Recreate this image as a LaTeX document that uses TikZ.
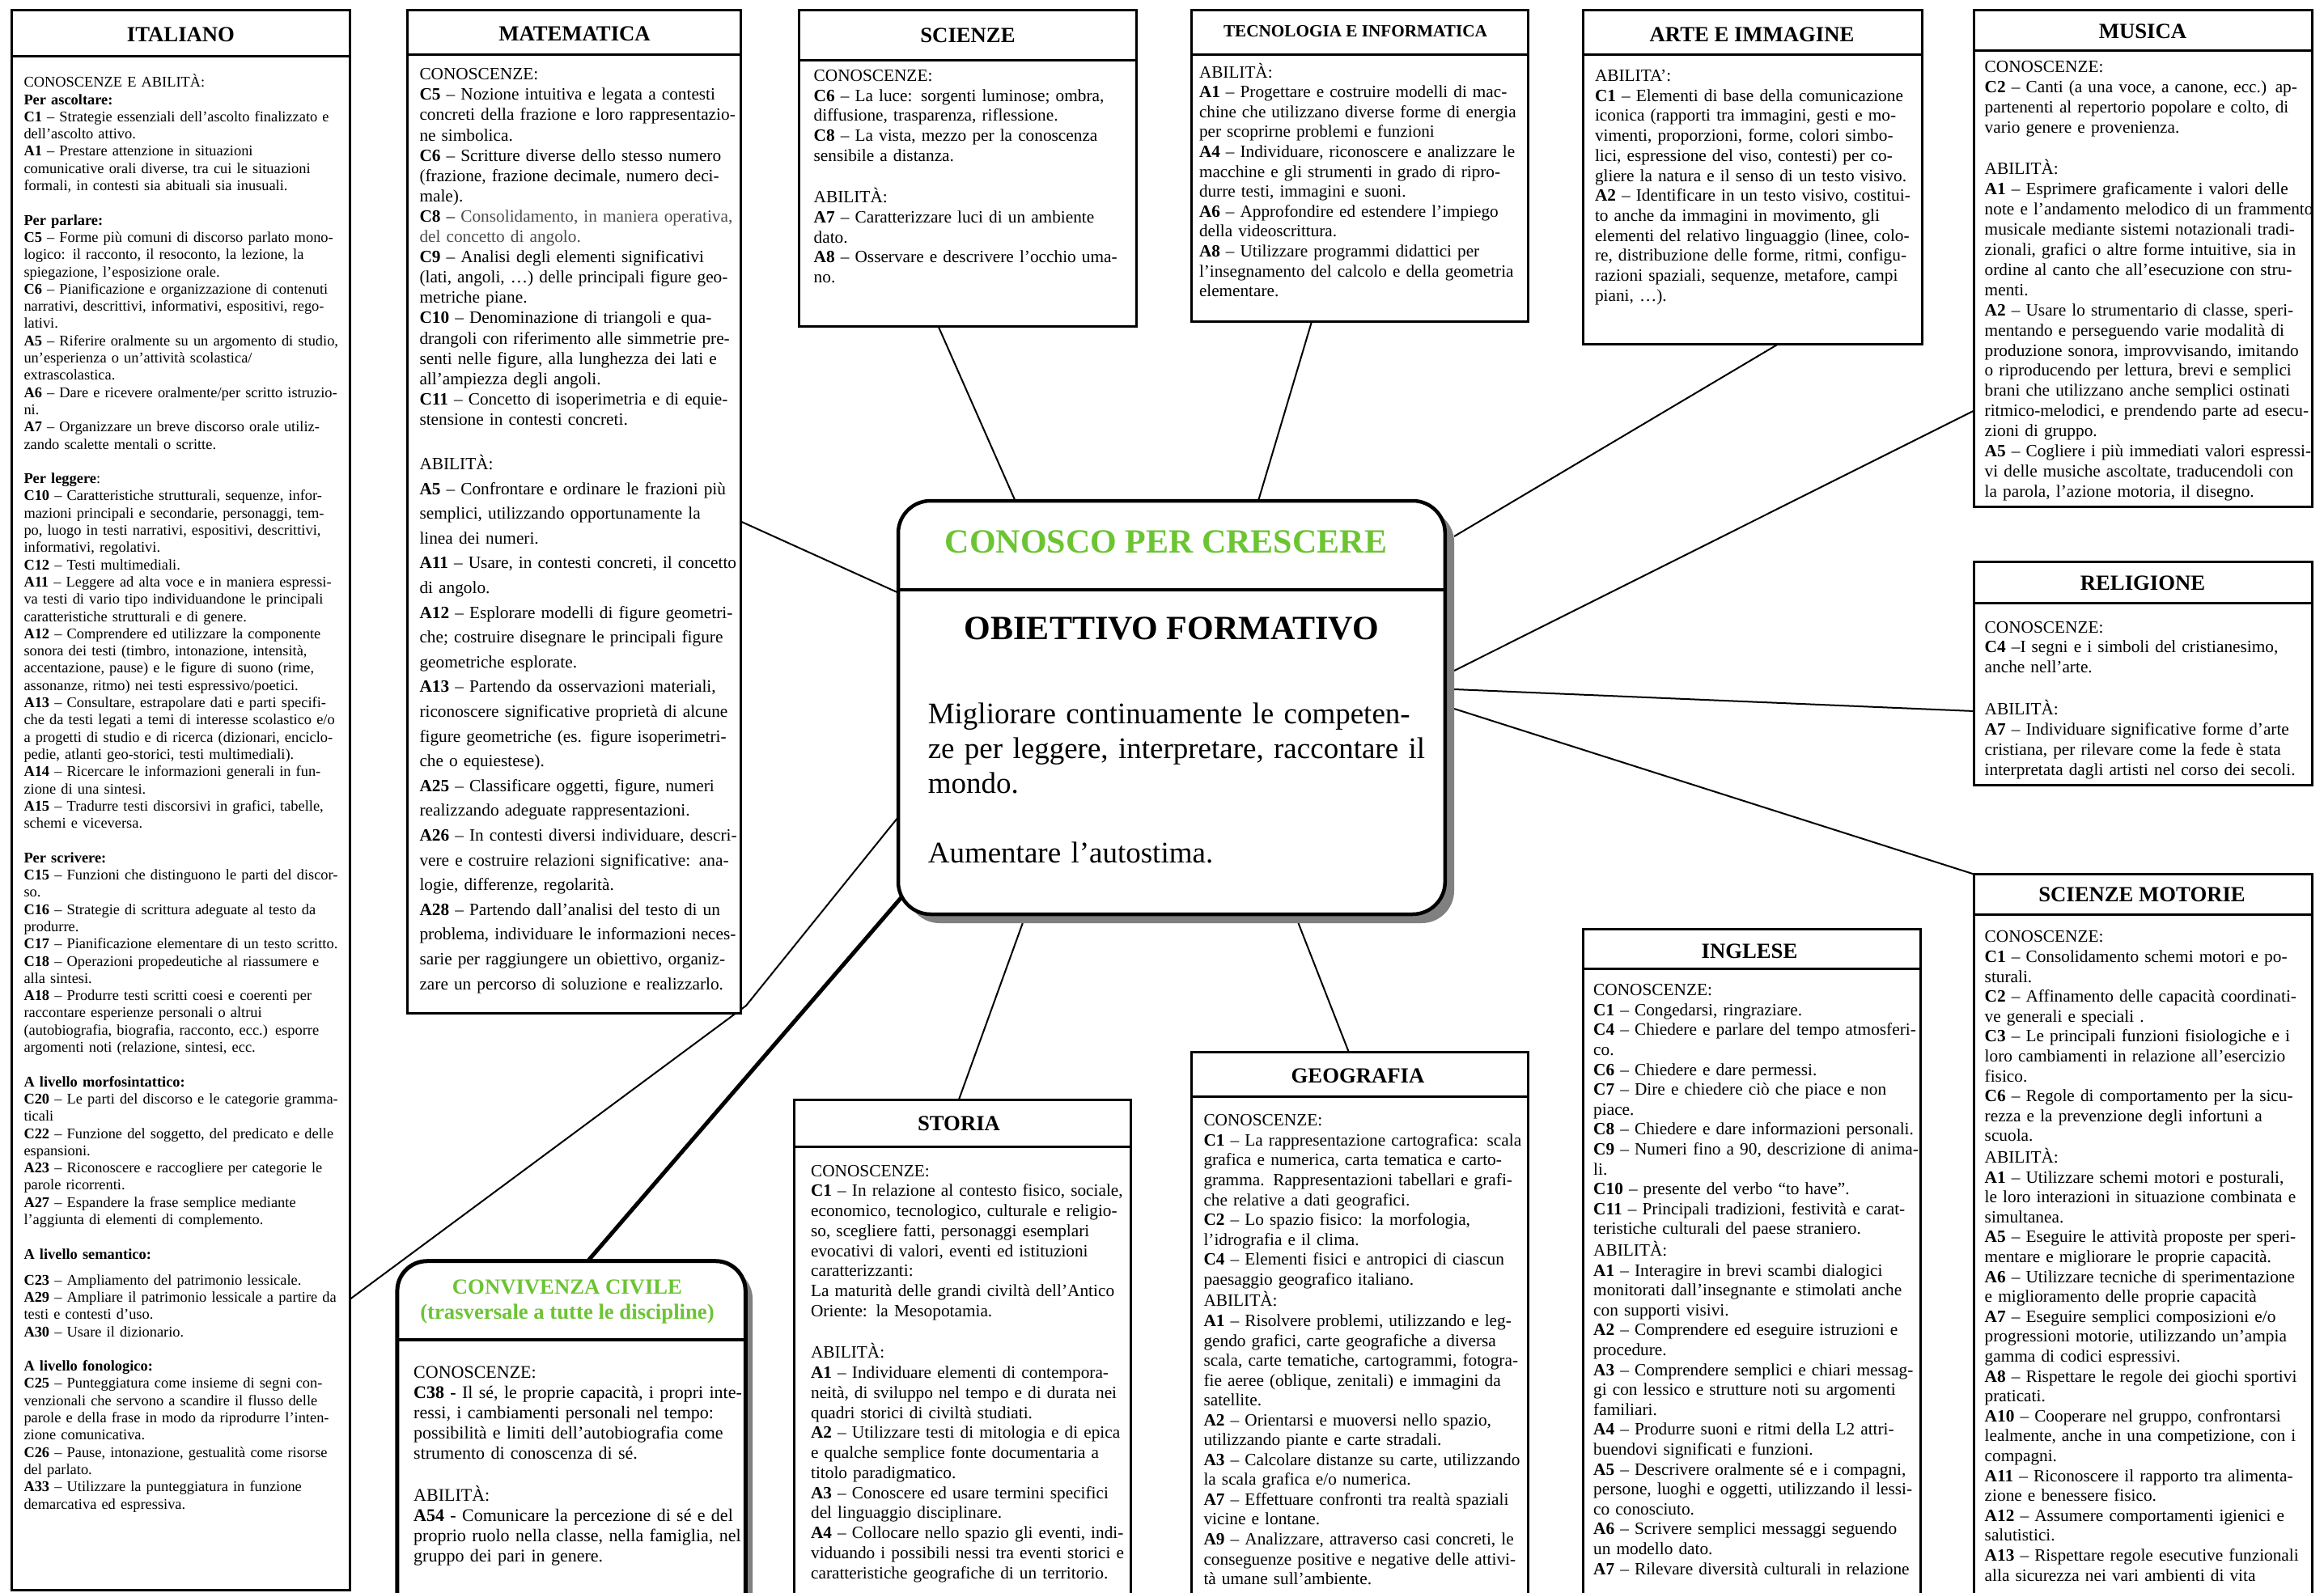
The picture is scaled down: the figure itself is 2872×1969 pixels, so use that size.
\documentclass[tikz,border=0pt]{standalone}
\usepackage{fontspec}
\setmainfont{Liberation Serif}
\usetikzlibrary{fit}
\definecolor{grn}{RGB}{108,196,51}
\hbadness=10000 \hfuzz=20pt
\newcommand\JL[1]{\hbox to\linewidth{\strut#1}\par}
\newcommand\RL[1]{\hbox to\linewidth{\strut#1\hfil}\par}
\newcommand\EL{\hbox{\strut}\par}
\newcommand\bt[1]{\textbf{#1}}
\tikzset{
  box/.style={draw, line width=3pt, inner sep=0pt, fill=white},
  sepl/.style={line width=3pt},
  ttl/.style={inner sep=0pt, font={\fontsize{26.7}{30}\selectfont\bfseries}},
  body/.style={anchor=north west, inner sep=0pt, font={\fontsize{21.3}{24.7}\selectfont}},
  conn/.style={line width=2pt, line join=round},
  thickconn/.style={line width=5pt},
}
\begin{document}
\begin{tikzpicture}[x=1pt,y=-1pt]
\useasboundingbox (0,0) rectangle (2872,1969);
\fill[white] (0,0) rectangle (2872,1969);
\clip (0,0) rectangle (2872,1969);

% ---------- connector end points ----------
\coordinate (ita-e) at (432.3,1606);
\coordinate (ita-bend) at (922,1243);
\coordinate (mat-e1) at (915.8,644.7);
\coordinate (sci-s) at (1159.4,403);
\coordinate (tec-s) at (1621,397.5);
\coordinate (art-s) at (2198,425);
\coordinate (mus-w) at (2439.7,507.4);
\coordinate (rel-w) at (2439.7,879);
\coordinate (scm-nw) at (2439.7,1080.6);
\coordinate (sto-n) at (1185,1359);
\coordinate (geo-n) at (1666.8,1300.4);
\coordinate (cnv-n) at (725.3,1560);
\coordinate (ctrw1) at (1110,732.6);
\coordinate (ctrw3) at (1110,1010);
\coordinate (ctrsw) at (1121,1101);
\coordinate (ctrn1) at (1254.6,619);
\coordinate (ctrn2) at (1555,619);
\coordinate (shr1) at (1797,663);
\coordinate (shr2) at (1797,829);
\coordinate (shr3) at (1797,852);
\coordinate (shr4) at (1797,876);
\coordinate (shb1) at (1263.8,1141);
\coordinate (shb2) at (1604.5,1141);

% ---------- connectors (behind the boxes) ----------
\draw[conn] (mat-e1) -- (ctrw1);
\draw[conn] (ita-e) -- (ita-bend) -- (ctrw3);
\draw[conn] (sci-s) -- (ctrn1);
\draw[conn] (tec-s) -- (ctrn2);
\draw[conn] (art-s) -- (shr1);
\draw[conn] (mus-w) -- (shr2);
\draw[conn] (rel-w) -- (shr3);
\draw[conn] (scm-nw) -- (shr4);
\draw[conn] (sto-n) -- (shb1);
\draw[conn] (geo-n) -- (shb2);
\draw[thickconn] (cnv-n) -- (ctrsw);

% ---------- boxes ----------
\node[box, fit={(14.7,12.8) (432.3,1965.3)}] (ita) {};
\draw[sepl] (14.7,69.6) -- (432.3,69.6);
\node[box, fit={(503.7,12.8) (915.8,1252.8)}] (mat) {};
\draw[sepl] (503.7,67.8) -- (915.8,67.8);
\node[box, fit={(987.2,12.8) (1404.8,403)}] (sci) {};
\draw[sepl] (987.2,75) -- (1404.8,75);
\node[box, fit={(1472.6,12.8) (1888.4,397.5)}] (tec) {};
\draw[sepl] (1472.6,67.8) -- (1888.4,67.8);
\node[box, fit={(1956.1,12.8) (2375.6,425)}] (art) {};
\draw[sepl] (1956.1,67.8) -- (2375.6,67.8);
\node[box, fit={(2439.7,12.8) (2857.3,626.4)}] (mus) {};
\draw[sepl] (2439.7,62.3) -- (2857.3,62.3);
\node[box, fit={(2439.7,694.2) (2857.3,970.7)}] (rel) {};
\draw[sepl] (2439.7,745.5) -- (2857.3,745.5);
\node[box, fit={(2439.7,1080.6) (2857.3,2000)}] (scm) {};
\draw[sepl] (2439.7,1130.1) -- (2857.3,1130.1);
\node[box, fit={(1956.1,1148.4) (2373.8,2000)}] (ing) {};
\draw[sepl] (1956.1,1197.9) -- (2373.8,1197.9);
\node[box, fit={(1472.6,1300.4) (1888.4,2000)}] (geo) {};
\draw[sepl] (1472.6,1355.4) -- (1888.4,1355.4);
\node[box, fit={(981.7,1359) (1397.5,2000)}] (sto) {};
\draw[sepl] (981.7,1417.6) -- (1397.5,1417.6);

% ---------- center box ----------
\fill[black!50, rounded corners=40pt] (1121,630) rectangle (1797,1141);
\node[draw, line width=4.5pt, fill=white, rounded corners=40pt, inner sep=0pt,
      fit={(1110,619) (1785.8,1130)}] (ctr) {};
\draw[line width=3.5pt] (1110,729) -- (1785.8,729);
\node[anchor=base, inner sep=0pt, text=grn, font={\fontsize{42}{48}\selectfont\bfseries}] (ctr-t1) at (1441,683) {CONOSCO PER CRESCERE};
\node[anchor=base, inner sep=0pt, font={\fontsize{42}{48}\selectfont\bfseries}] (ctr-t2) at (1448,790) {OBIETTIVO FORMATIVO};
\node[body, font={\fontsize{37}{43}\selectfont}, text width=602.5pt] (ctr-b) at (1146.6,863.9) {%
\JL{Migliorare continuamente le competen-}%
\JL{ze per leggere, interpretare, raccontare il}%
\RL{mondo.}%
\EL
\RL{Aumentare l’autostima.}};

% ---------- convivenza ----------
\fill[black!50, rounded corners=37pt] (500,1568) rectangle (930,2030);
\node[draw, line width=5pt, fill=white, rounded corners=37pt, inner sep=0pt,
      fit={(490.9,1558.7) (921.3,2020)}] (cnv) {};
\draw[line width=4.5pt] (490.9,1655.8) -- (921.3,1655.8);
\node[inner sep=0pt, text=grn, align=center, font={\fontsize{26.7}{31}\selectfont\bfseries}] (cnv-t) at (701,1609) {CONVIVENZA CIVILE\\(trasversale a tutte le discipline)};
\node[body, font={\fontsize{22}{25}\selectfont}, text width=392pt] (cnv-b) at (511,1685.5) {%
\RL{CONOSCENZE:}%
\JL{\bt{C38 -} Il sé, le proprie capacità, i propri inte-}%
\JL{ressi, i cambiamenti personali nel tempo:}%
\JL{possibilità e limiti dell’autobiografia come}%
\RL{strumento di conoscenza di sé.}%
\EL
\RL{ABILITÀ:}%
\JL{\bt{A54} - Comunicare la percezione di sé e del}%
\JL{proprio ruolo nella classe, nella famiglia, nel}%
\RL{gruppo dei pari in genere.}};

% ---------- titles ----------
\node[ttl] (ita-t) at (223.5,43) {ITALIANO};
\node[ttl] (mat-t) at (710,42) {MATEMATICA};
\node[ttl] (sci-t) at (1196,44) {SCIENZE};
\node[ttl, font={\fontsize{21.2}{25}\selectfont\bfseries}] (tec-t) at (1675,39) {TECNOLOGIA E INFORMATICA};
\node[ttl] (art-t) at (2165,43) {ARTE E IMMAGINE};
\node[ttl] (mus-t) at (2648,39) {MUSICA};
\node[ttl] (rel-t) at (2648,721) {RELIGIONE};
\node[ttl] (scm-t) at (2647,1106) {SCIENZE MOTORIE};
\node[ttl] (ing-t) at (2162,1176) {INGLESE};
\node[ttl] (geo-t) at (1678,1330) {GEOGRAFIA};
\node[ttl] (sto-t) at (1185,1389) {STORIA};

% ---------- ITALIANO ----------
\node[body, font={\fontsize{18.4}{21.3}\selectfont}, text width=385pt] (ita-b) at (29.3,91.8) {%
\RL{CONOSCENZE E ABILITÀ:}%
\RL{\bt{Per ascoltare:}}%
\JL{\bt{C1} – Strategie essenziali dell’ascolto finalizzato e}%
\RL{dell’ascolto attivo.}%
\JL{\bt{A1} – Prestare attenzione in situazioni}%
\JL{comunicative orali diverse, tra cui le situazioni}%
\RL{formali, in contesti sia abituali sia inusuali.}%
\EL
\RL{\bt{Per parlare:}}%
\RL{\bt{C5} – Forme più comuni di discorso parlato mono-}%
\RL{logico: il racconto, il resoconto, la lezione, la}%
\RL{spiegazione, l’esposizione orale.}%
\RL{\bt{C6} – Pianificazione e organizzazione di contenuti}%
\RL{narrativi, descrittivi, informativi, espositivi, rego-}%
\RL{lativi.}%
\RL{\bt{A5} – Riferire oralmente su un argomento di studio,}%
\RL{un’esperienza o un’attività scolastica/}%
\RL{extrascolastica.}%
\RL{\bt{A6} – Dare e ricevere oralmente/per scritto istruzio-}%
\RL{ni.}%
\RL{\bt{A7} – Organizzare un breve discorso orale utiliz-}%
\RL{zando scalette mentali o scritte.}%
\EL
\RL{\bt{Per leggere}:}%
\JL{\bt{C10} – Caratteristiche strutturali, sequenze, infor-}%
\JL{mazioni principali e secondarie, personaggi, tem-}%
\JL{po, luogo in testi narrativi, espositivi, descrittivi,}%
\RL{informativi, regolativi.}%
\RL{\bt{C12} – Testi multimediali.}%
\RL{\bt{A11} – Leggere ad alta voce e in maniera espressi-}%
\RL{va testi di vario tipo individuandone le principali}%
\RL{caratteristiche strutturali e di genere.}%
\RL{\bt{A12} – Comprendere ed utilizzare la componente}%
\RL{sonora dei testi (timbro, intonazione, intensità,}%
\RL{accentazione, pause) e le figure di suono (rime,}%
\RL{assonanze, ritmo) nei testi espressivo/poetici.}%
\RL{\bt{A13} – Consultare, estrapolare dati e parti specifi-}%
\RL{che da testi legati a temi di interesse scolastico e/o}%
\RL{a progetti di studio e di ricerca (dizionari, enciclo-}%
\RL{pedie, atlanti geo-storici, testi multimediali).}%
\RL{\bt{A14} – Ricercare le informazioni generali in fun-}%
\RL{zione di una sintesi.}%
\JL{\bt{A15} – Tradurre testi discorsivi in grafici, tabelle,}%
\RL{schemi e viceversa.}%
\EL
\RL{\bt{Per scrivere:}}%
\RL{\bt{C15} – Funzioni che distinguono le parti del discor-}%
\RL{so.}%
\RL{\bt{C16} – Strategie di scrittura adeguate al testo da}%
\RL{produrre.}%
\RL{\bt{C17} – Pianificazione elementare di un testo scritto.}%
\JL{\bt{C18} – Operazioni propedeutiche al riassumere e}%
\RL{alla sintesi.}%
\JL{\bt{A18} – Produrre testi scritti coesi e coerenti per}%
\JL{raccontare esperienze personali o altrui}%
\JL{(autobiografia, biografia, racconto, ecc.) esporre}%
\RL{argomenti noti (relazione, sintesi, ecc.}%
\EL
\RL{\bt{A livello morfosintattico:}}%
\JL{\bt{C20} – Le parti del discorso e le categorie gramma-}%
\RL{ticali}%
\JL{\bt{C22} – Funzione del soggetto, del predicato e delle}%
\RL{espansioni.}%
\JL{\bt{A23} – Riconoscere e raccogliere per categorie le}%
\RL{parole ricorrenti.}%
\JL{\bt{A27} – Espandere la frase semplice mediante}%
\RL{l’aggiunta di elementi di complemento.}%
\EL
\RL{\bt{A livello semantico:}}%
\vskip 10.7pt
\RL{\bt{C23} – Ampliamento del patrimonio lessicale.}%
\JL{\bt{A29} – Ampliare il patrimonio lessicale a partire da}%
\RL{testi e contesti d’uso.}%
\RL{\bt{A30} – Usare il dizionario.}%
\EL
\RL{\bt{A livello fonologico:}}%
\JL{\bt{C25} – Punteggiatura come insieme di segni con-}%
\JL{venzionali che servono a scandire il flusso delle}%
\JL{parole e della frase in modo da riprodurre l’inten-}%
\RL{zione comunicativa.}%
\JL{\bt{C26} – Pause, intonazione, gestualità come risorse}%
\RL{del parlato.}%
\JL{\bt{A33} – Utilizzare la punteggiatura in funzione}%
\RL{demarcativa ed espressiva.}};

% ---------- MATEMATICA ----------
\node[body, font={\fontsize{21.3}{25.1}\selectfont}, text width=385pt] (mat-b1) at (518.3,81) {%
\RL{CONOSCENZE:}%
\JL{\bt{C5} – Nozione intuitiva e legata a contesti}%
\JL{concreti della frazione e loro rappresentazio-}%
\RL{ne simbolica.}%
\JL{\bt{C6} – Scritture diverse dello stesso numero}%
\JL{(frazione, frazione decimale, numero deci-}%
\RL{male).}%
\JL{\bt{C8} – \color{black!70}Consolidamento, in maniera operativa,}%
\RL{\color{black!70}del concetto di angolo.}%
\JL{\bt{C9} – Analisi degli elementi significativi}%
\JL{(lati, angoli, …) delle principali figure geo-}%
\RL{metriche piane.}%
\JL{\bt{C10} – Denominazione di triangoli e qua-}%
\JL{drangoli con riferimento alle simmetrie pre-}%
\JL{senti nelle figure, alla lunghezza dei lati e}%
\RL{all’ampiezza degli angoli.}%
\JL{\bt{C11} – Concetto di isoperimetria e di equie-}%
\RL{stensione in contesti concreti.}};
\node[body, font={\fontsize{21.3}{30.6}\selectfont}, text width=385pt] (mat-b2) at (518.3,558.9) {%
\RL{ABILITÀ:}%
\JL{\bt{A5} – Confrontare e ordinare le frazioni più}%
\JL{semplici, utilizzando opportunamente la}%
\RL{linea dei numeri.}%
\JL{\bt{A11} – Usare, in contesti concreti, il concetto}%
\RL{di angolo.}%
\JL{\bt{A12} – Esplorare modelli di figure geometri-}%
\JL{che; costruire disegnare le principali figure}%
\RL{geometriche esplorate.}%
\JL{\bt{A13} – Partendo da osservazioni materiali,}%
\JL{riconoscere significative proprietà di alcune}%
\JL{figure geometriche (es. figure isoperimetri-}%
\RL{che o equiestese).}%
\JL{\bt{A25} – Classificare oggetti, figure, numeri}%
\RL{realizzando adeguate rappresentazioni.}%
\JL{\bt{A26} – In contesti diversi individuare, descri-}%
\JL{vere e costruire relazioni significative: ana-}%
\RL{logie, differenze, regolarità.}%
\JL{\bt{A28} – Partendo dall’analisi del testo di un}%
\JL{problema, individuare le informazioni neces-}%
\JL{sarie per raggiungere un obiettivo, organiz-}%
\RL{zare un percorso di soluzione e realizzarlo.}};

% ---------- SCIENZE ----------
\node[body, text width=381pt] (sci-b) at (1005.5,83.1) {%
\RL{CONOSCENZE:}%
\JL{\bt{C6} – La luce: sorgenti luminose; ombra,}%
\RL{diffusione, trasparenza, riflessione.}%
\JL{\bt{C8} – La vista, mezzo per la conoscenza}%
\RL{sensibile a distanza.}%
\EL
\RL{ABILITÀ:}%
\JL{\bt{A7} – Caratterizzare luci di un ambiente}%
\RL{dato.}%
\JL{\bt{A8} – Osservare e descrivere l’occhio uma-}%
\RL{no.}};

% ---------- TECNOLOGIA ----------
\node[body, font={\fontsize{21.2}{24.6}\selectfont}, text width=395pt] (tec-b) at (1481.8,77.8) {%
\RL{ABILITÀ:}%
\RL{\bt{A1} – Progettare e costruire modelli di mac-}%
\RL{chine che utilizzano diverse forme di energia}%
\RL{per scoprirne problemi e funzioni}%
\RL{\bt{A4} – Individuare, riconoscere e analizzare le}%
\RL{macchine e gli strumenti in grado di ripro-}%
\RL{durre testi, immagini e suoni.}%
\RL{\bt{A6} – Approfondire ed estendere l’impiego}%
\RL{della videoscrittura.}%
\RL{\bt{A8} – Utilizzare programmi didattici per}%
\RL{l’insegnamento del calcolo e della geometria}%
\RL{elementare.}};

% ---------- ARTE ----------
\node[body, text width=386.5pt] (art-b) at (1970.8,83.1) {%
\RL{ABILITA’:}%
\JL{\bt{C1} – Elementi di base della comunicazione}%
\JL{iconica (rapporti tra immagini, gesti e mo-}%
\JL{vimenti, proporzioni, forme, colori simbo-}%
\JL{lici, espressione del viso, contesti) per co-}%
\JL{gliere la natura e il senso di un testo visivo.}%
\JL{\bt{A2} – Identificare in un testo visivo, costitui-}%
\JL{to anche da immagini in movimento, gli}%
\JL{elementi del relativo linguaggio (linee, colo-}%
\JL{re, distribuzione delle forme, ritmi, configu-}%
\JL{razioni spaziali, sequenze, metafore, campi}%
\RL{piani, …).}};

% ---------- MUSICA ----------
\node[body, font={\fontsize{21.3}{24.9}\selectfont}, text width=395.6pt] (mus-b) at (2452.5,72) {%
\RL{CONOSCENZE:}%
\JL{\bt{C2} – Canti (a una voce, a canone, ecc.) ap-}%
\JL{partenenti al repertorio popolare e colto, di}%
\RL{vario genere e provenienza.}%
\EL
\RL{ABILITÀ:}%
\JL{\bt{A1} – Esprimere graficamente i valori delle}%
\JL{note e l'andamento melodico di un frammento}%
\JL{musicale mediante sistemi notazionali tradi-}%
\JL{zionali, grafici o altre forme intuitive, sia in}%
\JL{ordine al canto che all'esecuzione con stru-}%
\RL{menti.}%
\JL{\bt{A2} – Usare lo strumentario di classe, speri-}%
\JL{mentando e perseguendo varie modalità di}%
\JL{produzione sonora, improvvisando, imitando}%
\JL{o riproducendo per lettura, brevi e semplici}%
\JL{brani che utilizzano anche semplici ostinati}%
\JL{ritmico-melodici, e prendendo parte ad esecu-}%
\RL{zioni di gruppo.}%
\JL{\bt{A5} – Cogliere i più immediati valori espressi-}%
\JL{vi delle musiche ascoltate, traducendoli con}%
\RL{la parola, l’azione motoria, il disegno.}};

% ---------- RELIGIONE ----------
\node[body, font={\fontsize{21.3}{24.9}\selectfont}, text width=394pt] (rel-b) at (2452.5,764.4) {%
\RL{CONOSCENZE:}%
\RL{\bt{C4} –I segni e i simboli del cristianesimo,}%
\RL{anche nell’arte.}%
\EL
\RL{ABILITÀ:}%
\JL{\bt{A7} – Individuare significative forme d’arte}%
\JL{cristiana, per rilevare come la fede è stata}%
\JL{interpretata dagli artisti nel corso dei secoli.}};

% ---------- SCIENZE MOTORIE ----------
\node[body, font={\fontsize{21.3}{24.6}\selectfont}, text width=383pt] (scm-b) at (2452.5,1147.4) {%
\RL{CONOSCENZE:}%
\JL{\bt{C1} – Consolidamento schemi motori e po-}%
\RL{sturali.}%
\JL{\bt{C2} – Affinamento delle capacità coordinati-}%
\RL{ve generali e speciali .}%
\JL{\bt{C3} – Le principali funzioni fisiologiche e i}%
\JL{loro cambiamenti in relazione all’esercizio}%
\RL{fisico.}%
\JL{\bt{C6} – Regole di comportamento per la sicu-}%
\JL{rezza e la prevenzione degli infortuni a}%
\RL{scuola.}%
\RL{ABILITÀ:}%
\JL{\bt{A1} – Utilizzare schemi motori e posturali,}%
\JL{le loro interazioni in situazione combinata e}%
\RL{simultanea.}%
\JL{\bt{A5} – Eseguire le attività proposte per speri-}%
\RL{mentare e migliorare le proprie capacità.}%
\JL{\bt{A6} – Utilizzare tecniche di sperimentazione}%
\RL{e miglioramento delle proprie capacità}%
\JL{\bt{A7} – Eseguire semplici composizioni e/o}%
\JL{progressioni motorie, utilizzando un’ampia}%
\RL{gamma di codici espressivi.}%
\JL{\bt{A8} – Rispettare le regole dei giochi sportivi}%
\RL{praticati.}%
\JL{\bt{A10} – Cooperare nel gruppo, confrontarsi}%
\JL{lealmente, anche in una competizione, con i}%
\RL{compagni.}%
\JL{\bt{A11} – Riconoscere il rapporto tra alimenta-}%
\RL{zione e benessere fisico.}%
\JL{\bt{A12} – Assumere comportamenti igienici e}%
\RL{salutistici.}%
\JL{\bt{A13} – Rispettare regole esecutive funzionali}%
\RL{alla sicurezza nei vari ambienti di vita}};

% ---------- INGLESE ----------
\node[body, font={\fontsize{21.3}{24.6}\selectfont}, text width=392pt] (ing-b) at (1969,1213.3) {%
\RL{CONOSCENZE:}%
\RL{\bt{C1} – Congedarsi, ringraziare.}%
\JL{\bt{C4} – Chiedere e parlare del tempo atmosferi-}%
\RL{co.}%
\RL{\bt{C6} – Chiedere e dare permessi.}%
\JL{\bt{C7} – Dire e chiedere ciò che piace e non}%
\RL{piace.}%
\RL{\bt{C8} – Chiedere e dare informazioni personali.}%
\JL{\bt{C9} – Numeri fino a 90, descrizione di anima-}%
\RL{li.}%
\RL{\bt{C10} – presente del verbo “to have”.}%
\JL{\bt{C11} – Principali tradizioni, festività e carat-}%
\RL{teristiche culturali del paese straniero.}%
\RL{ABILITÀ:}%
\JL{\bt{A1} – Interagire in brevi scambi dialogici}%
\JL{monitorati dall’insegnante e stimolati anche}%
\RL{con supporti visivi.}%
\JL{\bt{A2} – Comprendere ed eseguire istruzioni e}%
\RL{procedure.}%
\JL{\bt{A3} – Comprendere semplici e chiari messag-}%
\JL{gi con lessico e strutture noti su argomenti}%
\RL{familiari.}%
\JL{\bt{A4} – Produrre suoni e ritmi della L2 attri-}%
\RL{buendovi significati e funzioni.}%
\JL{\bt{A5} – Descrivere oralmente sé e i compagni,}%
\JL{persone, luoghi e oggetti, utilizzando il lessi-}%
\RL{co conosciuto.}%
\JL{\bt{A6} – Scrivere semplici messaggi seguendo}%
\RL{un modello dato.}%
\JL{\bt{A7} – Rilevare diversità culturali in relazione}};

% ---------- GEOGRAFIA ----------
\node[body, font={\fontsize{21.3}{24.55}\selectfont}, text width=385pt] (geo-b) at (1487.3,1374.5) {%
\RL{CONOSCENZE:}%
\JL{\bt{C1} – La rappresentazione cartografica: scala}%
\JL{grafica e numerica, carta tematica e carto-}%
\JL{gramma. Rappresentazioni tabellari e grafi-}%
\RL{che relative a dati geografici.}%
\JL{\bt{C2} – Lo spazio fisico: la morfologia,}%
\RL{l’idrografia e il clima.}%
\JL{\bt{C4} – Elementi fisici e antropici di ciascun}%
\RL{paesaggio geografico italiano.}%
\RL{ABILITÀ:}%
\JL{\bt{A1} – Risolvere problemi, utilizzando e leg-}%
\JL{gendo grafici, carte geografiche a diversa}%
\JL{scala, carte tematiche, cartogrammi, fotogra-}%
\JL{fie aeree (oblique, zenitali) e immagini da}%
\RL{satellite.}%
\JL{\bt{A2} – Orientarsi e muoversi nello spazio,}%
\RL{utilizzando piante e carte stradali.}%
\JL{\bt{A3} – Calcolare distanze su carte, utilizzando}%
\RL{la scala grafica e/o numerica.}%
\JL{\bt{A7} – Effettuare confronti tra realtà spaziali}%
\RL{vicine e lontane.}%
\JL{\bt{A9} – Analizzare, attraverso casi concreti, le}%
\JL{conseguenze positive e negative delle attivi-}%
\RL{tà umane sull’ambiente.}};

% ---------- STORIA ----------
\node[body, font={\fontsize{21.3}{24.75}\selectfont}, text width=383pt] (sto-b) at (1001.9,1436.7) {%
\RL{CONOSCENZE:}%
\JL{\bt{C1} – In relazione al contesto fisico, sociale,}%
\JL{economico, tecnologico, culturale e religio-}%
\JL{so, scegliere fatti, personaggi esemplari}%
\JL{evocativi di valori, eventi ed istituzioni}%
\RL{caratterizzanti:}%
\JL{La maturità delle grandi civiltà dell'Antico}%
\RL{Oriente: la Mesopotamia.}%
\EL
\RL{ABILITÀ:}%
\JL{\bt{A1} – Individuare elementi di contempora-}%
\JL{neità, di sviluppo nel tempo e di durata nei}%
\RL{quadri storici di civiltà studiati.}%
\JL{\bt{A2} – Utilizzare testi di mitologia e di epica}%
\JL{e qualche semplice fonte documentaria a}%
\RL{titolo paradigmatico.}%
\JL{\bt{A3} – Conoscere ed usare termini specifici}%
\RL{del linguaggio disciplinare.}%
\JL{\bt{A4} – Collocare nello spazio gli eventi, indi-}%
\JL{viduando i possibili nessi tra eventi storici e}%
\RL{caratteristiche geografiche di un territorio.}};
\end{tikzpicture}
\end{document}
